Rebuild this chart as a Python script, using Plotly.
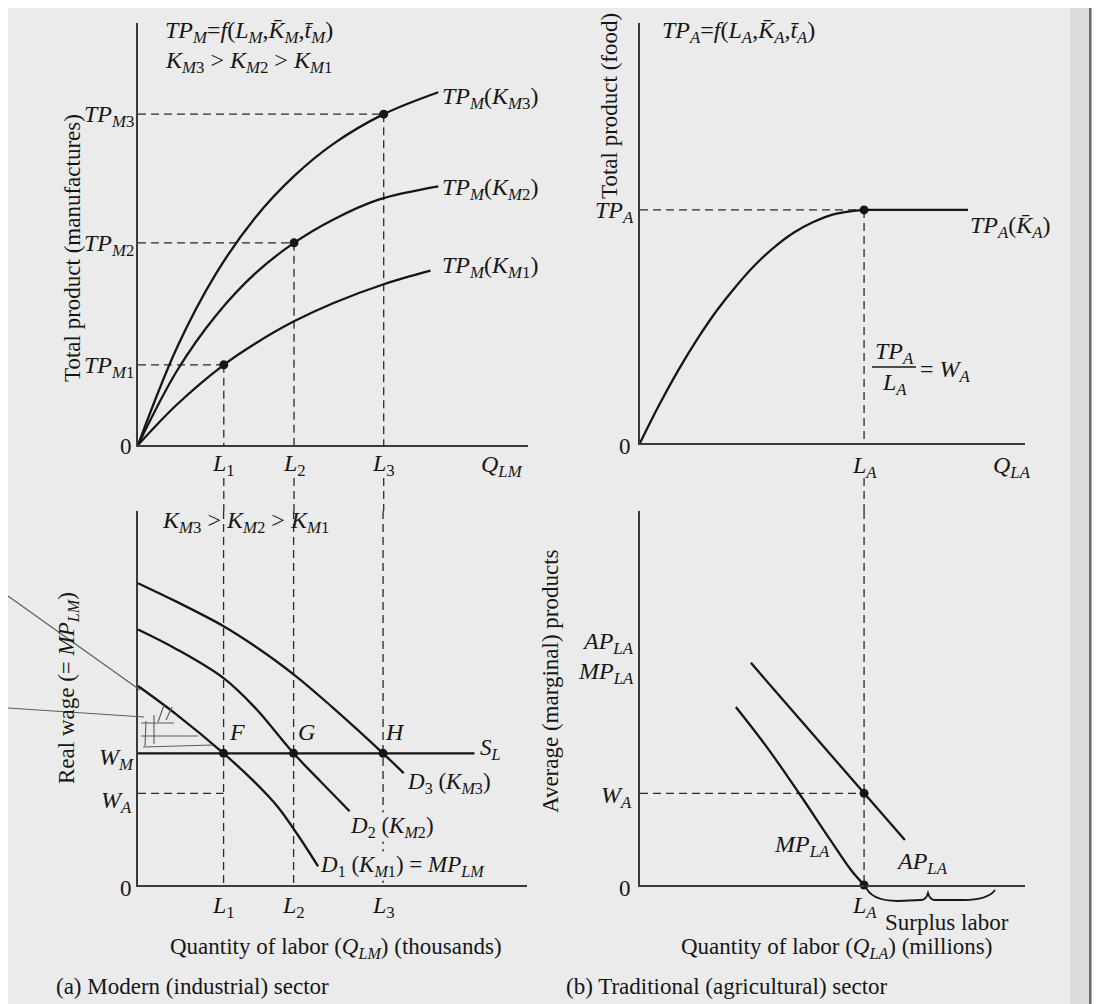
import plotly.graph_objects as go

W, H = 1100, 1004

# ---------------- data ----------------
# Modern sector (top-left): labour quantities L1, L2, L3 and output levels
L_M = [2.2, 4.0, 6.3]
TP_M_levels = [19.0, 47.9, 78.4]          # TP_M1, TP_M2, TP_M3

tpm1_x = [0, 1, 2.2, 3, 4, 5, 6.3, 7.5]
tpm1_y = [0, 9.6, 19.0, 24.0, 29.3, 33.6, 38.1, 41.3]
tpm2_x = [0, 1, 2, 3, 4.0, 5, 6.15, 7.7]
tpm2_y = [0, 17.6, 30.7, 40.6, 47.9, 53.4, 58.1, 61.3]
tpm3_x = [0, 1, 2, 3, 4, 5, 6.3, 7.7]
tpm3_y = [0, 23.1, 40.6, 53.8, 63.7, 71.3, 78.4, 83.6]

# Modern sector (bottom-left): labour demand curves and wages
W_M = 35.2
W_A = 24.5
d1_x = [0, 1, 2.2, 3, 3.6, 4.1, 4.63]
d1_y = [53.2, 45.5, 35.2, 27.5, 20.8, 13.5, 5.0]
d2_x = [0, 1, 2.2, 3, 4.0, 4.7, 5.44]
d2_y = [68.3, 63.0, 55.3, 47.5, 35.2, 27.6, 19.7]
d3_x = [0, 1, 2.2, 3, 4.04, 5, 6.3, 6.83]
d3_y = [80.7, 75.7, 69.2, 63.9, 56.0, 47.5, 35.2, 29.9]
S_L_end = 8.65

# Traditional sector (top-right): total product of food
L_A = 5.82
TP_A = 55.5
tpa_x = [0, 0.5, 1.0, 1.5, 2.0, 2.5, 3.0, 3.5, 4.0, 4.5, 5.0, 5.82]
tpa_y = [0, 9.1, 17.4, 24.9, 31.6, 37.4, 42.5, 46.7, 50.1, 52.6, 54.4, 55.5]
tpa_flat_end = 8.52

# Traditional sector (bottom-right): average and marginal products
ap_x = [2.88, 6.88]
ap_y = [59.4, 12.0]
mp_x = [2.49, 3.3, 4.1, 4.96, 5.48, 5.82]
mp_y = [47.6, 36.8, 25.0, 11.8, 4.0, 0.0]

# ---------------- styling ----------------
SERIF = "Liberation Serif"
INK = "#161616"
AXC = "#3a3a3a"
BG = "#ebebeb"
DASH = "8px,5px"
FS = 24      # italic labels
FT = 23      # upright text


def px(x):
    return x / W


def py(y):
    return 1 - y / H


def ann(text, x, y, size=FS, xa="center", ya="middle", angle=0, bg=None):
    d = dict(x=px(x), y=py(y), xref="paper", yref="paper", text=text,
             showarrow=False, xanchor=xa, yanchor=ya, textangle=angle,
             font=dict(family=SERIF, size=size, color=INK))
    if bg:
        d["bgcolor"] = bg
        d["borderpad"] = 0
    return d


fig = go.Figure()


def curve(x, y, ax, width=2.3, shape="spline"):
    fig.add_trace(go.Scatter(x=x, y=y, mode="lines", xaxis=ax[0], yaxis=ax[1],
                             line=dict(color=INK, width=width, shape=shape, smoothing=1.0),
                             hoverinfo="skip", showlegend=False))


def dashed(x, y, ax):
    fig.add_trace(go.Scatter(x=x, y=y, mode="lines", xaxis=ax[0], yaxis=ax[1],
                             line=dict(color="#2a2a2a", width=1.3, dash=DASH),
                             hoverinfo="skip", showlegend=False))


def dots(x, y, ax):
    fig.add_trace(go.Scatter(x=x, y=y, mode="markers", xaxis=ax[0], yaxis=ax[1],
                             marker=dict(color=INK, size=9), cliponaxis=False,
                             hoverinfo="skip", showlegend=False))


TL, BL, TR, BR = ("x", "y"), ("x2", "y2"), ("x3", "y3"), ("x4", "y4")

# ---- top-left ----
for L, T in zip(L_M, TP_M_levels):
    dashed([0, L], [T, T], TL)
    dashed([L, L], [T, 0], TL)
curve(tpm1_x, tpm1_y, TL)
curve(tpm2_x, tpm2_y, TL)
curve(tpm3_x, tpm3_y, TL)
dots(L_M, TP_M_levels, TL)

# ---- bottom-left ----
for L in L_M:
    dashed([L, L], [100, 0], BL)
dashed([0, L_M[0]], [W_A, W_A], BL)
fig.add_trace(go.Scatter(x=[0, S_L_end], y=[W_M, W_M], mode="lines", xaxis="x2", yaxis="y2",
                         line=dict(color=INK, width=2.4), hoverinfo="skip", showlegend=False))
curve(d1_x, d1_y, BL)
curve(d2_x, d2_y, BL)
curve(d3_x, d3_y, BL)
dots(L_M, [W_M] * 3, BL)

# ---- top-right ----
dashed([0, L_A], [TP_A, TP_A], TR)
dashed([L_A, L_A], [TP_A, 0], TR)
curve(tpa_x, tpa_y, TR)
curve([L_A, tpa_flat_end], [TP_A, TP_A], TR, shape="linear")
dots([L_A], [TP_A], TR)

# ---- bottom-right ----
dashed([L_A, L_A], [100, 0], BR)
dashed([0, L_A], [W_A, W_A], BR)
curve(ap_x, ap_y, BR, shape="linear")
curve(mp_x, mp_y, BR)
dots([L_A, L_A], [W_A, 0], BR)


def axis(domain_px, rng, horizontal, anchor):
    if horizontal:
        dom = [px(domain_px[0]), px(domain_px[1])]
    else:
        dom = [py(domain_px[0]), py(domain_px[1])]
    return dict(domain=dom, range=rng, anchor=anchor, showgrid=False, zeroline=False,
                showticklabels=False, ticks="", showline=True, linecolor=AXC,
                linewidth=1.7, fixedrange=True)


layout = dict(
    width=W, height=H, autosize=False,
    margin=dict(l=0, r=0, t=0, b=0),
    paper_bgcolor=BG, plot_bgcolor="rgba(0,0,0,0)",
    showlegend=False,
    xaxis=axis([130, 520], [0, 10], True, "y"),
    yaxis=axis([437, 15], [0, 100], False, "x"),
    xaxis2=axis([130, 519], [0, 10], True, "y2"),
    yaxis2=axis([877, 503], [0, 100], False, "x2"),
    xaxis3=axis([632, 1017], [0, 10], True, "y3"),
    yaxis3=axis([435, 15], [0, 100], False, "x3"),
    xaxis4=axis([632, 1017], [0, 10], True, "y4"),
    yaxis4=axis([877, 503], [0, 100], False, "x4"),
)
fig.update_layout(**layout)


# x position in pixels of a data value on a 0..10 axis
def xpx(v, left, right):
    return left + (right - left) * v / 10.0


shapes = []
# dashed verticals crossing the gap between the panels
for L in L_M:
    xp = xpx(L, 130, 520)
    shapes.append(dict(type="line", xref="paper", yref="paper", x0=px(xp), x1=px(xp),
                       y0=py(470), y1=py(503), line=dict(color="#2a2a2a", width=1.3, dash=DASH)))
xp = xpx(L_A, 632, 1017)
shapes.append(dict(type="line", xref="paper", yref="paper", x0=px(xp), x1=px(xp),
                   y0=py(470), y1=py(503), line=dict(color="#2a2a2a", width=1.3, dash=DASH)))

# fraction bar of TP_A / L_A
shapes.append(dict(type="line", xref="paper", yref="paper", x0=px(864), x1=px(908),
                   y0=py(359), y1=py(359), line=dict(color=INK, width=1.3)))

# surplus labour brace
pts = "M {},{} Q {},{} {},{} L {},{} Q {},{} {},{} Q {},{} {},{} L {},{} Q {},{} {},{}"
coords = [(857, 877), (862, 893), (890, 893), (913, 892), (918, 892), (920, 885),
          (922, 892), (927, 892), (955, 892), (980, 892), (987, 882)]
flat = []
for (a, b) in coords:
    flat += [round(px(a), 5), round(py(b), 5)]
shapes.append(dict(type="path", xref="paper", yref="paper", path=pts.format(*flat),
                   line=dict(color=INK, width=1.8)))

# pencil marks in the scan (left of lower-left diagram)
pencil = [((0, 588), (132, 682)), ((0, 700), (136, 709)),
          ((133, 715), (166, 715)), ((133, 728), (190, 728)), ((135, 739), (205, 737)),
          ((138, 713), (137, 738)), ((146, 707), (146, 736)), ((156, 697), (150, 714)),
          ((164, 699), (158, 712))]
for (a, b) in pencil:
    shapes.append(dict(type="line", xref="paper", yref="paper", x0=px(a[0]), y0=py(a[1]),
                       x1=px(b[0]), y1=py(b[1]), line=dict(color="#5a5a5a", width=1.1)))

# book spine at the right edge
shapes.append(dict(type="rect", xref="paper", yref="paper", x0=px(1062), x1=px(1082),
                   y0=0, y1=1, line=dict(width=0), fillcolor="#dcdcdc"))
shapes.append(dict(type="rect", xref="paper", yref="paper", x0=px(1082), x1=1,
                   y0=0, y1=1, line=dict(width=0), fillcolor="#ababab"))
shapes.append(dict(type="line", xref="paper", yref="paper", x0=px(1082), x1=px(1082),
                   y0=0, y1=1, line=dict(color="#6a6a6a", width=2)))
fig.update_layout(shapes=shapes)

KB = "K\u0304"
TB = "t\u0304"
KM = lambda n: f"<i>K<sub>M</sub></i><sub>{n}</sub>"
anns = [
    # top-left
    ann(f"<i>TP<sub>M</sub></i>=<i>f</i>(<i>L<sub>M</sub></i>,<i>{KB}<sub>M</sub></i>,<i>{TB}<sub>M</sub></i>)", 155, 24, xa="left"),
    ann(f"{KM(3)} > {KM(2)} > {KM(1)}", 155, 54, xa="left"),
    ann("<i>TP<sub>M</sub></i><sub>3</sub>", 128, 108, xa="right"),
    ann("<i>TP<sub>M</sub></i><sub>2</sub>", 128, 237, xa="right"),
    ann("<i>TP<sub>M</sub></i><sub>1</sub>", 128, 359, xa="right"),
    ann(f"<i>TP<sub>M</sub></i>({KM(3)})", 432, 90, xa="left"),
    ann(f"<i>TP<sub>M</sub></i>({KM(2)})", 432, 181, xa="left"),
    ann(f"<i>TP<sub>M</sub></i>({KM(1)})", 432, 259, xa="left"),
    ann("0", 118, 438, size=FT),
    ann("<i>L</i><sub>1</sub>", xpx(L_M[0], 130, 520), 457),
    ann("<i>L</i><sub>2</sub>", xpx(L_M[1], 130, 520), 457),
    ann("<i>L</i><sub>3</sub>", xpx(L_M[2], 130, 520), 457),
    ann("<i>Q<sub>LM</sub></i>", 494, 458),
    ann("Total product (manufactures)", 64, 240, size=FT, angle=-90),
    # bottom-left
    ann(f"{KM(3)} > {KM(2)} > {KM(1)}", 152, 514, xa="left"),
    ann("<i>F</i>", 229, 724), ann("<i>G</i>", 299, 724), ann("<i>H</i>", 387, 724),
    ann("<i>S<sub>L</sub></i>", 470, 741, size=23, xa="left"),
    ann("<i>W<sub>M</sub></i>", 128, 751, xa="right"),
    ann("<i>W<sub>A</sub></i>", 126, 794, xa="right"),
    ann(f"<i>D</i><sub>3</sub> ({KM(3)})", 397, 775, size=23, xa="left"),
    ann(f"<i>D</i><sub>2</sub> ({KM(2)})", 341, 819, size=23, xa="left", bg=BG),
    ann(f"<i>D</i><sub>1</sub> ({KM(1)}) = <i>MP<sub>LM</sub></i>", 311, 858, size=23, xa="left", bg=BG),
    ann("0", 118, 880, size=FT),
    ann("<i>L</i><sub>1</sub>", xpx(L_M[0], 130, 519), 899),
    ann("<i>L</i><sub>2</sub>", xpx(L_M[1], 130, 519), 899),
    ann("<i>L</i><sub>3</sub>", xpx(L_M[2], 130, 519), 899),
    ann("Quantity of labor (<i>Q<sub>LM</sub></i>) (thousands)", 328, 940, size=FT),
    ann("(a) Modern (industrial) sector", 46, 978, size=FT, xa="left"),
    ann("Real wage (= <i>MP<sub>LM</sub></i>)", 60, 680, size=FT, angle=-90),
    # top-right
    ann(f"<i>TP<sub>A</sub></i>=<i>f</i>(<i>L<sub>A</sub></i>,<i>{KB}<sub>A</sub></i>,<i>{TB}<sub>A</sub></i>)", 652, 24, xa="left"),
    ann("<i>TP<sub>A</sub></i>", 628, 204, xa="right"),
    ann(f"<i>TP<sub>A</sub></i>(<i>{KB}<sub>A</sub></i>)", 960, 219, xa="left"),
    ann("<i>TP<sub>A</sub></i>", 886, 345),
    ann("<i>L<sub>A</sub></i>", 886, 376),
    ann("= <i>W<sub>A</sub></i>", 910, 363, xa="left"),
    ann("0", 617, 438, size=FT),
    ann("<i>L<sub>A</sub></i>", xpx(L_A, 632, 1017), 459),
    ann("<i>Q<sub>LA</sub></i>", 1004, 459),
    ann("Total product (food)", 601, 98, size=FT, angle=-90),
    # bottom-right
    ann("<i>AP<sub>LA</sub></i>", 628, 635, xa="right"),
    ann("<i>MP<sub>LA</sub></i>", 628, 665, xa="right"),
    ann("<i>W<sub>A</sub></i>", 626, 789, xa="right"),
    ann("<i>MP<sub>LA</sub></i>", 794, 838),
    ann("<i>AP<sub>LA</sub></i>", 914, 855),
    ann("0", 617, 880, size=FT),
    ann("<i>L<sub>A</sub></i>", xpx(L_A, 632, 1017), 899),
    ann("Surplus labor", 875, 914, size=FT, xa="left"),
    ann("Quantity of labor (<i>Q<sub>LA</sub></i>) (millions)", 828, 940, size=FT),
    ann("(b) Traditional (agricultural) sector", 556, 978, size=FT, xa="left"),
    ann("Average (marginal) products", 542, 673, size=FT, angle=-90),
]
fig.update_layout(annotations=anns)

fig.write_html("out.html")
